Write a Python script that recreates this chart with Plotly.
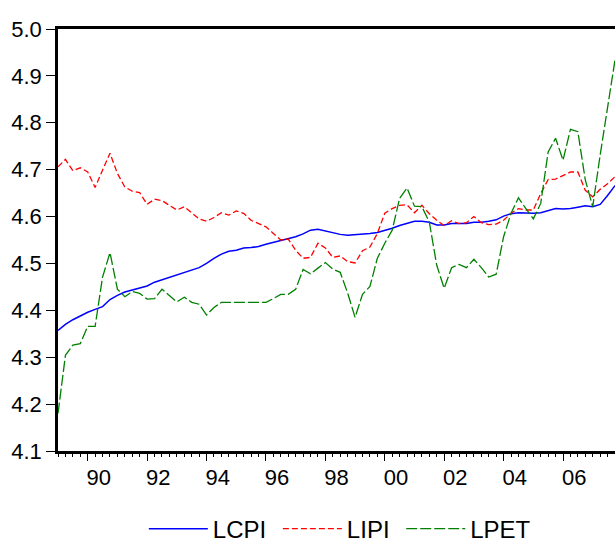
import plotly.graph_objects as go

# Quarterly observations, 1989Q1 .. 2007Q4
start_year = 1989
n_obs = 76
quarters = [start_year + i / 4 for i in range(n_obs)]

LCPI = [4.357, 4.370, 4.380, 4.388, 4.396, 4.402, 4.408, 4.423, 4.432, 4.439,
        4.443, 4.448, 4.452, 4.460, 4.465, 4.470, 4.476, 4.481, 4.486, 4.491,
        4.500, 4.511, 4.520, 4.526, 4.528, 4.533, 4.534, 4.536, 4.541, 4.545,
        4.548, 4.553, 4.557, 4.563, 4.571, 4.573, 4.569, 4.565, 4.562, 4.560,
        4.561, 4.563, 4.564, 4.566, 4.570, 4.575, 4.581, 4.586, 4.590, 4.590,
        4.588, 4.582, 4.582, 4.585, 4.585, 4.585, 4.588, 4.588, 4.590, 4.593,
        4.601, 4.606, 4.608, 4.607, 4.607, 4.608, 4.613, 4.617, 4.616, 4.617,
        4.620, 4.623, 4.621, 4.626, 4.645, 4.666]

LIPI = [4.706, 4.722, 4.698, 4.704, 4.695, 4.662, 4.699, 4.735, 4.692, 4.663,
        4.654, 4.651, 4.626, 4.637, 4.634, 4.624, 4.614, 4.621, 4.607, 4.595,
        4.590, 4.598, 4.608, 4.603, 4.612, 4.607, 4.592, 4.585, 4.578, 4.564,
        4.550, 4.552, 4.528, 4.511, 4.513, 4.543, 4.533, 4.513, 4.516, 4.504,
        4.501, 4.527, 4.535, 4.564, 4.607, 4.617, 4.624, 4.625, 4.608, 4.624,
        4.606, 4.592, 4.581, 4.591, 4.585, 4.587, 4.600, 4.587, 4.583, 4.584,
        4.592, 4.607, 4.617, 4.614, 4.614, 4.649, 4.679, 4.680, 4.687, 4.695,
        4.695, 4.656, 4.642, 4.658, 4.670, 4.685]

LPET = [4.180, 4.304, 4.326, 4.329, 4.366, 4.366, 4.471, 4.523, 4.445, 4.429,
        4.440, 4.436, 4.424, 4.425, 4.445, 4.431, 4.418, 4.428, 4.417, 4.413,
        4.390, 4.406, 4.417, 4.417, 4.417, 4.417, 4.417, 4.417, 4.417, 4.425,
        4.434, 4.434, 4.445, 4.487, 4.478, 4.490, 4.502, 4.488, 4.481, 4.437,
        4.385, 4.434, 4.451, 4.511, 4.543, 4.571, 4.639, 4.661, 4.622, 4.621,
        4.588, 4.496, 4.447, 4.491, 4.498, 4.491, 4.509, 4.491, 4.471, 4.477,
        4.557, 4.607, 4.640, 4.617, 4.595, 4.628, 4.738, 4.767, 4.720, 4.786,
        4.781, 4.678, 4.621, 4.731, 4.834, 4.934]

series_names = ["LCPI", "LIPI", "LPET"]
y_ticks = [4.1, 4.2, 4.3, 4.4, 4.5, 4.6, 4.7, 4.8, 4.9, 5.0]
label_years = [1990, 1992, 1994, 1996, 1998, 2000, 2002, 2004, 2006]
year_labels = ["90", "92", "94", "96", "98", "00", "02", "04", "06"]

FONT = "Liberation Sans, Arial, sans-serif"
x_range = [1989.0, 2007.75]
PAD = "\u00a0"  # small spacer after legend labels

fig = go.Figure()
fig.add_trace(go.Scatter(x=quarters, y=LCPI, name=series_names[0] + PAD, mode="lines",
                         line=dict(color="#0000FF", width=1.5)))
fig.add_trace(go.Scatter(x=quarters, y=LIPI, name=series_names[1] + PAD, mode="lines",
                         line=dict(color="#FF0000", width=1.3, dash="6px,3px")))
fig.add_trace(go.Scatter(x=quarters, y=LPET, name=series_names[2], mode="lines",
                         line=dict(color="#008000", width=1.3, dash="11px,3px")))
# invisible trace to activate label axis
fig.add_trace(go.Scatter(x=[x_range[0]], y=[4.1], xaxis="x2", mode="markers",
                         marker=dict(opacity=0), showlegend=False, hoverinfo="skip"))

fig.update_layout(
    width=615, height=540,
    margin=dict(l=58, r=0, t=29, b=89, autoexpand=False),
    paper_bgcolor="white", plot_bgcolor="white",
    font=dict(family=FONT, size=22, color="black"),
    showlegend=True,
    legend=dict(orientation="h", x=0.506, xanchor="center", y=-0.185, yanchor="middle",
                font=dict(size=24), itemwidth=59, bgcolor="rgba(0,0,0,0)"),
    xaxis=dict(range=x_range, showgrid=False, zeroline=False,
               showline=True, linecolor="black", linewidth=2.5, mirror=True,
               tickmode="array", tickvals=label_years, ticks="outside", ticklen=7,
               tickwidth=1, tickcolor="black", showticklabels=False,
               minor=dict(ticks="outside", ticklen=3, tickwidth=1, tickcolor="black",
                          tick0=1989, dtick=0.25, showgrid=False)),
    xaxis2=dict(range=x_range, overlaying="x", anchor="y", side="bottom",
                showgrid=False, zeroline=False, showline=False,
                tickmode="array", tickvals=[yr + 0.375 for yr in label_years],
                ticktext=year_labels, ticks="", ticklabelstandoff=11,
                tickfont=dict(size=22)),
    yaxis=dict(range=[4.1, 5.0], showgrid=False, zeroline=False,
               showline=True, linecolor="black", linewidth=2.5,
               tickmode="array", tickvals=y_ticks,
               ticktext=[f"{v:.1f}" for v in y_ticks],
               ticks="outside", ticklen=9, tickwidth=1, tickcolor="black",
               tickfont=dict(size=22)),
)

fig.write_html("out.html")
